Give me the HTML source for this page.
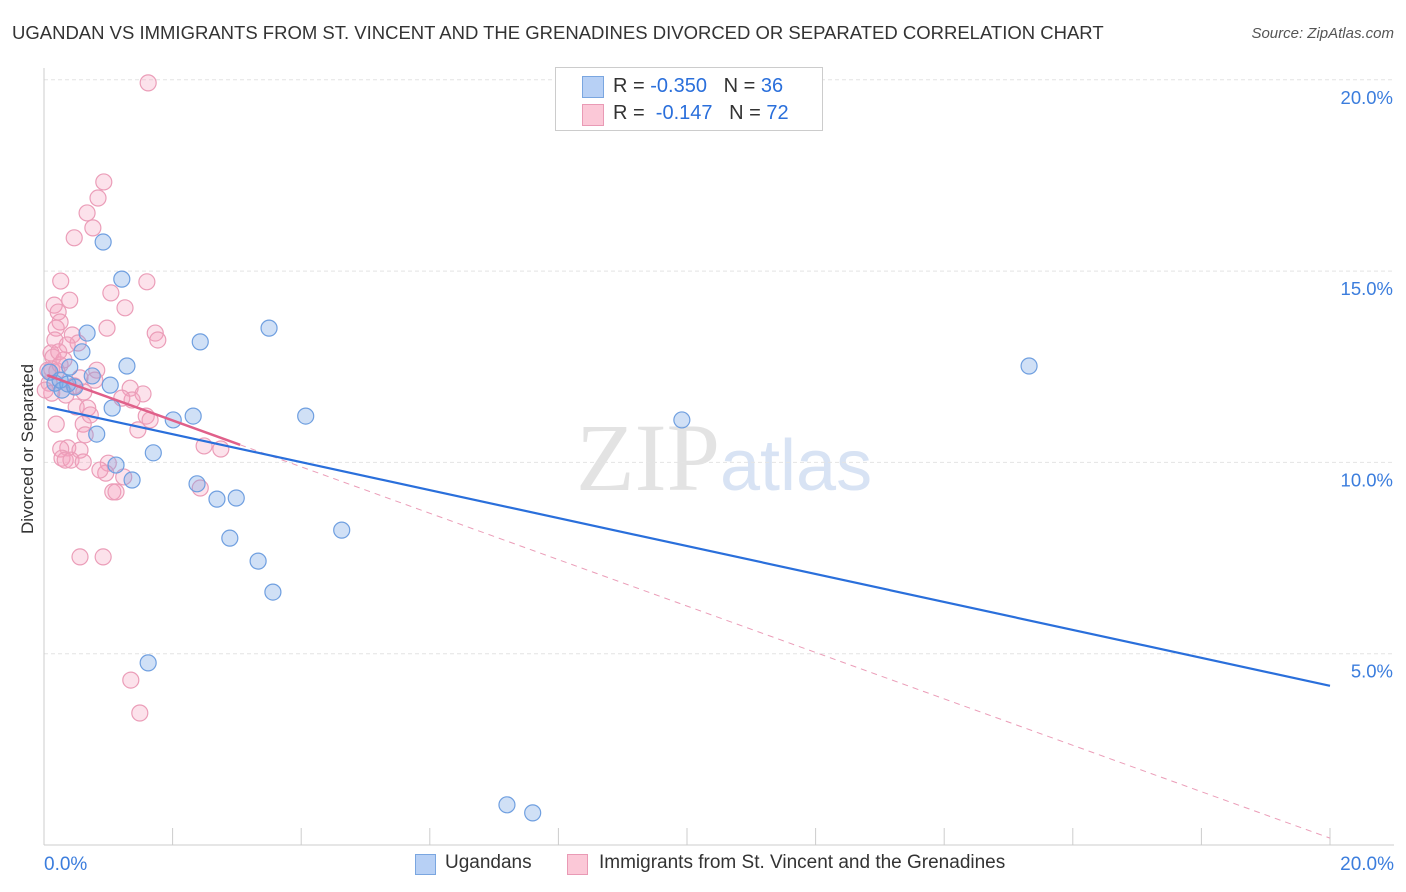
<!DOCTYPE html>
<html><head><meta charset="utf-8">
<style>
body{margin:0;background:#fff;font-family:"Liberation Sans",sans-serif;}
#wrap{position:relative;width:1406px;height:892px;overflow:hidden;}
.t{position:absolute;white-space:nowrap;}
</style></head><body>
<div id="wrap">
<div class="t" style="left:12px;top:22px;font-size:18.5px;color:#333;">UGANDAN VS IMMIGRANTS FROM ST. VINCENT AND THE GRENADINES DIVORCED OR SEPARATED CORRELATION CHART</div>
<div class="t" style="right:12px;top:25px;font-size:15px;color:#555;font-style:italic;">Source: ZipAtlas.com</div>
<svg id="svg" width="1406" height="892" style="position:absolute;left:0;top:0">
<text x="720" y="490" font-family="Liberation Serif" font-size="96" fill="#e3e3e3" text-anchor="end">ZIP</text>
<text x="720" y="490" font-family="Liberation Sans" font-size="72" fill="#d8e3f4">atlas</text>
<g id="grid"></g><g id="marks"></g>
</svg>
<div style="position:absolute;left:555px;top:67px;width:266px;height:62px;border:1px solid #ccc;background:#fff;font-size:20px;color:#333;">
 <div style="position:absolute;left:26px;top:8px;width:20px;height:20px;background:#b7d0f5;border:1px solid #7aa6e0"></div>
 <div class="t" style="left:57px;top:7px">R = <span style="color:#2a6fdb">-0.350</span>&nbsp;&nbsp;&nbsp;N = <span style="color:#2a6fdb">36</span></div>
 <div style="position:absolute;left:26px;top:36px;width:20px;height:20px;background:#fbc8d7;border:1px solid #e99ab5"></div>
 <div class="t" style="left:57px;top:34px">R = &nbsp;<span style="color:#2a6fdb">-0.147</span>&nbsp;&nbsp;&nbsp;N = <span style="color:#2a6fdb">72</span></div>
</div>
<div style="position:absolute;left:415px;top:852px;font-size:19px;color:#333;">
 <div style="position:absolute;left:0;top:2px;width:19px;height:19px;background:#b7d0f5;border:1px solid #7aa6e0"></div>
 <div class="t" style="left:30px;top:0">Ugandans</div>
 <div style="position:absolute;left:152px;top:2px;width:19px;height:19px;background:#fbc8d7;border:1px solid #e99ab5"></div>
 <div class="t" style="left:184px;top:0">Immigrants from St. Vincent and the Grenadines</div>
</div>
<div class="t" style="left:-52px;top:444px;transform:rotate(-90deg);font-size:17px;color:#333;width:160px;text-align:center;">Divorced or Separated</div>
</div>
<script>
const blueX=[0.92,1.21,0.67,0.59,2.43,3.50,1.29,0.40,0.17,0.28,0.48,1.03,0.75,1.06,2.32,2.01,4.07,0.82,1.70,1.12,1.37,2.38,2.69,2.99,2.89,3.33,4.63,3.56,1.62,15.32,9.92,7.20,7.60,0.09,0.25,0.37];
const blueY=[15.76,14.79,13.38,12.89,13.15,13.51,12.52,12.49,12.07,11.89,11.97,12.02,12.26,11.42,11.21,11.11,11.21,10.74,10.25,9.93,9.54,9.44,9.04,9.07,8.02,7.42,8.23,6.61,4.76,12.52,11.11,1.05,0.84,12.36,12.15,12.05];
const pinkX=[1.62,0.93,0.84,0.67,0.76,0.47,0.26,1.60,1.04,0.40,0.16,1.26,0.22,0.25,0.19,0.98,1.73,0.44,1.77,0.53,0.36,0.11,0.14,0.82,0.12,0.20,0.56,0.08,1.34,0.62,1.54,0.12,1.37,0.50,0.68,1.59,0.19,0.61,0.64,2.49,2.75,0.37,0.26,0.56,0.28,0.33,0.42,0.61,1.00,0.96,1.24,2.43,1.07,1.12,0.56,0.92,1.35,1.49,0.25,0.06,0.34,0.47,0.79,1.21,0.17,0.31,0.72,1.46,0.87,1.65,0.02,0.23];
const pinkY=[19.92,17.33,16.91,16.52,16.13,15.87,14.74,14.72,14.43,14.24,14.11,14.04,13.93,13.67,13.51,13.51,13.38,13.33,13.20,13.12,13.07,12.86,12.75,12.41,12.44,12.39,12.21,12.07,11.94,11.84,11.79,11.81,11.63,11.45,11.42,11.21,11.00,11.00,10.72,10.43,10.35,10.38,10.35,10.32,10.11,10.06,10.06,10.01,9.98,9.72,9.62,9.33,9.23,9.23,7.53,7.53,4.31,3.45,12.55,12.41,11.76,12.00,12.15,11.68,13.20,12.68,11.24,10.85,9.80,11.11,11.89,12.89];
const blueTrend=[[0.05,11.45],[20,4.16]];
const pinkTrend=[[0.05,12.28],[20,0.18]];
const pinkSolidEnd=3.05;
const yTicks=[5,10,15,20];
const xTickLabels=["0.0%","20.0%"];
const sx=v=>44+v/20*1286, sy=v=>845-v/5*191.3;
const NS="http://www.w3.org/2000/svg";
function mk(tag,at,par){const e=document.createElementNS(NS,tag);for(const k in at)e.setAttribute(k,at[k]);par.appendChild(e);return e;}
const g=document.getElementById('grid'),m=document.getElementById('marks');
yTicks.forEach(t=>{const l=mk('line',{x1:44,x2:1394,y1:sy(t),y2:sy(t),stroke:'#e4e4e4','stroke-dasharray':'4,3'},g);

const tx=mk('text',{x:1393,y:sy(t)+24,'text-anchor':'end','font-size':18.5,fill:'#3b7ddd','font-family':'Liberation Sans'},g);tx.textContent=t.toFixed(1)+'%';
});
let ax=mk('line',{x1:44,x2:1394,y1:845,y2:845,stroke:'#ccc'},g);
let ay=mk('line',{x1:44,x2:44,y1:68,y2:845,stroke:'#ccc'},g);
for(let i=1;i<=10;i++){const x=sx(i*2);const l=mk('line',{x1:x,x2:x,y1:828,y2:845,stroke:'#ccc'},g);}
[[0,'start',44],[20,'end',1394]].forEach((d,i)=>{const tx=mk('text',{x:d[2],y:870,'text-anchor':d[1],'font-size':19,fill:'#3b7ddd','font-family':'Liberation Sans'},g);tx.textContent=xTickLabels[i];});
pinkX.forEach((x,i)=>{const c=mk('circle',{cx:sx(x),cy:sy(pinkY[i]),r:8,fill:'rgba(244,160,190,0.3)',stroke:'#eb9db8','stroke-width':1.2},m);
});
blueX.forEach((x,i)=>{const c=mk('circle',{cx:sx(x),cy:sy(blueY[i]),r:8,fill:'rgba(120,165,230,0.35)',stroke:'#6f9fe0','stroke-width':1.2},m);
});
const pk=x=>pinkTrend[0][1]+(pinkTrend[1][1]-pinkTrend[0][1])*(x-pinkTrend[0][0])/(pinkTrend[1][0]-pinkTrend[0][0]);
let pd=mk('line',{x1:sx(pinkSolidEnd),y1:sy(pk(pinkSolidEnd)),x2:sx(pinkTrend[1][0]),y2:sy(pinkTrend[1][1]),stroke:'#eb9db8','stroke-dasharray':'6,5','stroke-width':1},m);

let ps=mk('line',{x1:sx(pinkTrend[0][0]),y1:sy(pinkTrend[0][1]),x2:sx(pinkSolidEnd),y2:sy(pk(pinkSolidEnd)),stroke:'#e0608a','stroke-width':2.5},m);

let bl=mk('line',{x1:sx(blueTrend[0][0]),y1:sy(blueTrend[0][1]),x2:sx(blueTrend[1][0]),y2:sy(blueTrend[1][1]),stroke:'#2a6fdb','stroke-width':2.2},m);

</script>
</body></html>
